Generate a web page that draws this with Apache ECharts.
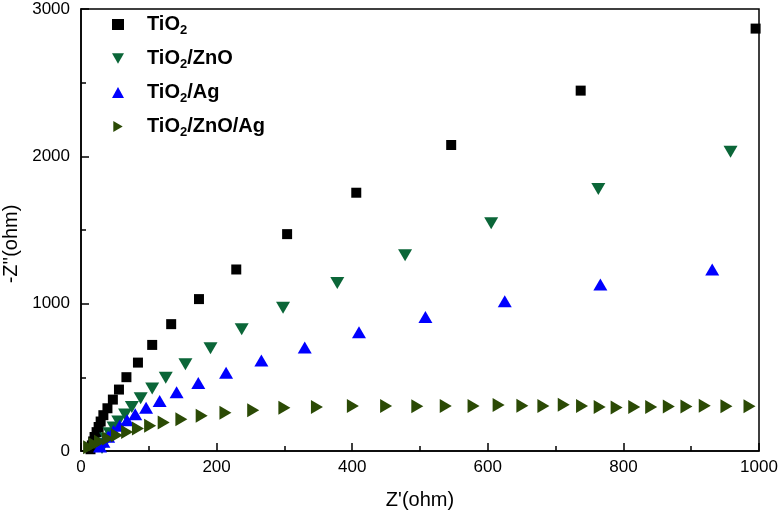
<!DOCTYPE html>
<html><head><meta charset="utf-8">
<script src="https://cdn.jsdelivr.net/npm/echarts@6/dist/echarts.min.js"></script>
<style>html,body{margin:0;padding:0;background:#fff}#c{width:779px;height:514px}</style>
</head><body><div id="c"></div>
<script>
// Data (Z' in ohm, -Z'' in ohm)
const seriesNames = ['TiO2', 'TiO2/ZnO', 'TiO2/Ag', 'TiO2/ZnO/Ag'];
const xTickLabels = [0, 200, 400, 600, 800, 1000];
const yTickLabels = [0, 1000, 2000, 3000];

const tio2 = [
  [14,12],[16,38],[18,65],[20,95],[23,128],[26,163],[29,200],[33,243],[39,290],[47,349],
  [56,417],[67,501],[84,600],[105,720],[133,861],[174,1031],[229,1232],[304,1472],
  [406,1753],[546,2077],[737,2446],[995,2867]
];
const tio2Zno = [
  [31,20],[33,50],[37,85],[42,120],[48,160],[55,200],[65,247],[75,299],[88,358],[105,424],
  [125,498],[154,589],[191,698],[237,826],[298,972],[378,1141],[478,1329],[605,1545],
  [763,1778],[958,2031]
];
const tio2Ag = [
  [28,30],[33,62],[40,97],[48,135],[57,172],[68,208],[80,249],[96,293],[116,340],[141,399],
  [173,462],[214,531],[266,614],[330,702],[410,806],[508,910],[625,1017],[766,1130],[931,1232]
];
const tio2ZnoAg = [
  [12,25],[20,45],[28,62],[40,84],[53,107],[68,129],[84,152],[102,172],[122,193],[148,215],
  [178,240],[213,259],[254,276],[300,293],[348,299],[401,306],[450,306],[496,304],[538,306],
  [579,306],[616,312],[651,307],[682,305],[712,314],[739,305],[765,299],[790,295],[816,299],
  [841,299],[867,302],[893,302],[920,307],[952,303],[986,303]
];

const colors = ['#000000', '#0b6638', '#0000ff', '#2b4a05'];
const legendIcons = ['rect', 'path://M0,0L14,0L7,12Z', 'triangle', 'path://M0,0L12,7L0,14Z'];
const font = '"Liberation Sans", Arial, sans-serif';

const chart = echarts.init(document.getElementById('c'), null, {renderer: 'canvas'});
function legendFmt(name) {
  return name.replace('TiO2', '{a|TiO}{s|2}').replace(/\/(.+)$/, '{a|/$1}');
}
chart.setOption({
  animation: false,
  backgroundColor: '#fff',
  grid: {left: 81, right: 20, top: 9, bottom: 63, containLabel: false, outerBoundsMode: 'none',
         show: true, borderColor: '#000', borderWidth: 1.5},
  legend: {
    orient: 'vertical', left: 107, top: 7, itemGap: 9, itemWidth: 12, itemHeight: 11,
    data: seriesNames.map((n, i) => ({name: n, icon: legendIcons[i]})),
    formatter: legendFmt,
    textStyle: {
      padding: [0, 0, 0, 18],
      rich: {
        a: {fontFamily: font, fontSize: 20, fontWeight: 'bold', color: '#000', lineHeight: 24},
        s: {fontFamily: font, fontSize: 13, fontWeight: 'bold', color: '#000', padding: [12, 0, 0, 0], lineHeight: 24}
      }
    }
  },
  xAxis: {
    type: 'value', min: 0, max: 1000, interval: 200,
    name: "Z'(ohm)", nameLocation: 'middle', nameGap: 39,
    nameTextStyle: {fontFamily: font, fontSize: 20, color: '#000'},
    axisLine: {show: true, lineStyle: {color: '#000', width: 1.5}},
    axisTick: {show: true, inside: true, length: 8, lineStyle: {color: '#000', width: 1.5}},
    minorTick: {show: true, splitNumber: 2, length: 5, lineStyle: {color: '#000', width: 1.5}},
    splitLine: {show: false},
    axisLabel: {fontFamily: font, fontSize: 17, color: '#000', margin: 8,
      formatter: v => xTickLabels.includes(v) ? String(v) : ''}
  },
  yAxis: {
    type: 'value', min: 0, max: 3000, interval: 1000,
    name: "-Z''(ohm)", nameLocation: 'middle', nameGap: 60, nameRotate: 90,
    nameTextStyle: {fontFamily: font, fontSize: 20, color: '#000', padding: [0, 28, 0, 0]},
    axisLine: {show: true, lineStyle: {color: '#000', width: 1.5}},
    axisTick: {show: true, inside: true, length: 8, lineStyle: {color: '#000', width: 1.5}},
    minorTick: {show: true, splitNumber: 2, length: 5, lineStyle: {color: '#000', width: 1.5}},
    splitLine: {show: false},
    axisLabel: {fontFamily: font, fontSize: 17, color: '#000', margin: 11,
      formatter: v => yTickLabels.includes(v) ? String(v) : ''}
  },
  series: [
    {name: seriesNames[0], type: 'scatter', data: tio2, symbol: 'rect', symbolSize: 10,
     itemStyle: {color: colors[0], opacity: 1}},
    {name: seriesNames[1], type: 'scatter', data: tio2Zno, symbol: 'triangle', symbolSize: [14, 12], symbolRotate: 180,
     itemStyle: {color: colors[1], opacity: 1}},
    {name: seriesNames[2], type: 'scatter', data: tio2Ag, symbol: 'triangle', symbolSize: [14, 12],
     itemStyle: {color: colors[2], opacity: 1}},
    {name: seriesNames[3], type: 'scatter', data: tio2ZnoAg, symbol: 'triangle', symbolSize: [14, 12], symbolRotate: -90,
     itemStyle: {color: colors[3], opacity: 1}}
  ]
});
</script></body></html>
